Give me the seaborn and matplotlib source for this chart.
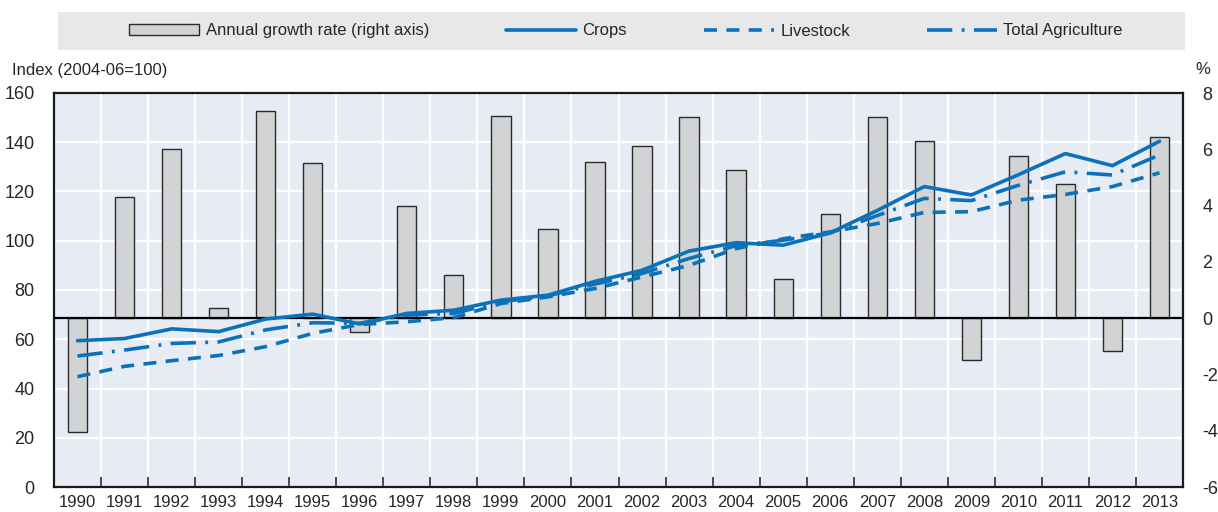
import numpy as np
import pandas as pd
import matplotlib.pyplot as plt
from matplotlib.patches import Patch, Rectangle
from matplotlib.lines import Line2D
import seaborn as sns

sns.set_theme(style='white')
plt.rcParams['font.family'] = ['Liberation Sans', 'DejaVu Sans']
plt.rcParams['axes.unicode_minus'] = False

# data
years = [str(y) for y in range(1990, 2014)]
growth = [-4.05, 4.3, 6.0, 0.35, 7.35, 5.5, -0.5, 4.0, 1.55, 7.2, 3.15, 5.55,
          6.1, 7.15, 5.25, 1.4, 3.7, 7.15, 6.3, -1.5, 5.75, 4.75, -1.15, 6.45]
crops = [59.4, 60.3, 64.2, 63.1, 68.2, 70.2, 66.2, 70.5, 71.8, 75.9, 77.9, 83.5,
         88.0, 95.8, 99.2, 98.2, 103.2, 112.3, 122.0, 118.6, 126.8, 135.4, 130.5, 140.4]
livestock = [44.8, 49.0, 51.3, 53.4, 57.0, 62.4, 66.0, 67.1, 68.8, 74.5, 77.2, 80.6,
             85.3, 90.0, 96.8, 100.8, 103.6, 107.0, 111.5, 111.8, 116.5, 118.8, 122.0, 127.6]
total = [53.2, 55.6, 58.3, 58.9, 63.8, 66.7, 66.5, 69.8, 70.5, 75.2, 77.6, 82.4,
         86.7, 92.8, 98.0, 100.2, 103.2, 110.2, 117.2, 116.3, 122.5, 128.0, 126.7, 134.8]

df = pd.DataFrame({'year': years, 'growth': growth, 'crops': crops,
                   'livestock': livestock, 'total': total})
df['pos'] = np.arange(len(df))

blue = '#0a72ba'
bar_col = '#d2d3d5'
bg = '#e7ebf4'
fs = 13
dash = (0, (3.6, 2.6))
dashdot = (0, (7, 2.6, 0.8, 2.6))

fig = plt.figure(figsize=(12.18, 5.12), dpi=100)
ax = fig.add_axes([54/1218, 25/512, 1129/1218, 394/512])
ax.set_facecolor(bg)

# right axis: growth bars
ax2 = ax.twinx()
sns.barplot(data=df, x='pos', y='growth', native_scale=True, width=0.41,
            color=bar_col, edgecolor='#2b2b2b', linewidth=1.0, saturation=1, ax=ax2)
ax2.axhline(0, color='black', lw=1.6)
ax2.set_ylim(-6, 8)
ax2.set_yticks(range(-6, 9, 2))
ax2.set_ylabel('')
ax2.tick_params(axis='y', length=0, pad=14, labelsize=fs)
ax2.grid(False)

# top layer: index lines
ax3 = ax.twinx()
sns.lineplot(data=df, x='pos', y='crops', color=blue, lw=2.6, ax=ax3)
sns.lineplot(data=df, x='pos', y='livestock', color=blue, lw=2.6, linestyle=dash, ax=ax3)
sns.lineplot(data=df, x='pos', y='total', color=blue, lw=2.6, linestyle=dashdot, ax=ax3)
ax3.set_ylim(0, 160)
ax3.set_yticks([])
ax3.set_ylabel('')
for s in ax3.spines.values():
    s.set_visible(False)
for s in ax2.spines.values():
    s.set_visible(False)

# left axis, grid and x ticks
ax.set_ylim(0, 160)
ax.set_yticks(range(0, 161, 20))
ax.set_xlim(-0.5, len(df) - 0.5)
ax.set_xticks(df['pos'])
ax.set_xticklabels(years)
ax.set_xticks(np.arange(-0.5, len(df), 1), minor=True)
ax.tick_params(axis='x', which='major', length=0, pad=6, labelsize=12)
ax.tick_params(axis='x', which='minor', direction='in', length=7, width=1.2,
               color='#2b2b2b', bottom=True)
ax.tick_params(axis='y', length=0, pad=14, labelsize=fs)
ax.grid(False)
ax.yaxis.grid(True, color='white', lw=1.6)
ax.xaxis.grid(True, which='minor', color='white', lw=1.6)
ax.set_xlabel('')
for s in ax.spines.values():
    s.set_visible(True)
    s.set_color('#1a1a1a')
    s.set_linewidth(1.6)

fig.text(12/1218, 1 - 70/512, 'Index (2004-06=100)', fontsize=12, va='center', ha='left')
fig.text(1195/1218, 1 - 70/512, '%', fontsize=12, va='center', ha='left')

# legend in a grey band
fig.patches.append(Rectangle((58/1218, 1 - 50/512), 1127/1218, 38/512,
                             transform=fig.transFigure, facecolor='#e8e8ea',
                             edgecolor='none', zorder=0))
handles = [Patch(facecolor=bar_col, edgecolor='#2b2b2b', linewidth=1.0),
           Line2D([], [], color=blue, lw=2.6),
           Line2D([], [], color=blue, lw=2.6, linestyle=dash),
           Line2D([], [], color=blue, lw=2.6, linestyle=dashdot)]
labels = ['Annual growth rate (right axis)', 'Crops', 'Livestock', 'Total Agriculture']
fig.legend(handles, labels, ncol=4, loc='center', bbox_to_anchor=(626/1218, 1 - 31/512),
           frameon=False, fontsize=12, handlelength=4.2, handleheight=0.6,
           columnspacing=4.6, handletextpad=0.4)

fig.savefig('out.png', dpi=100)
